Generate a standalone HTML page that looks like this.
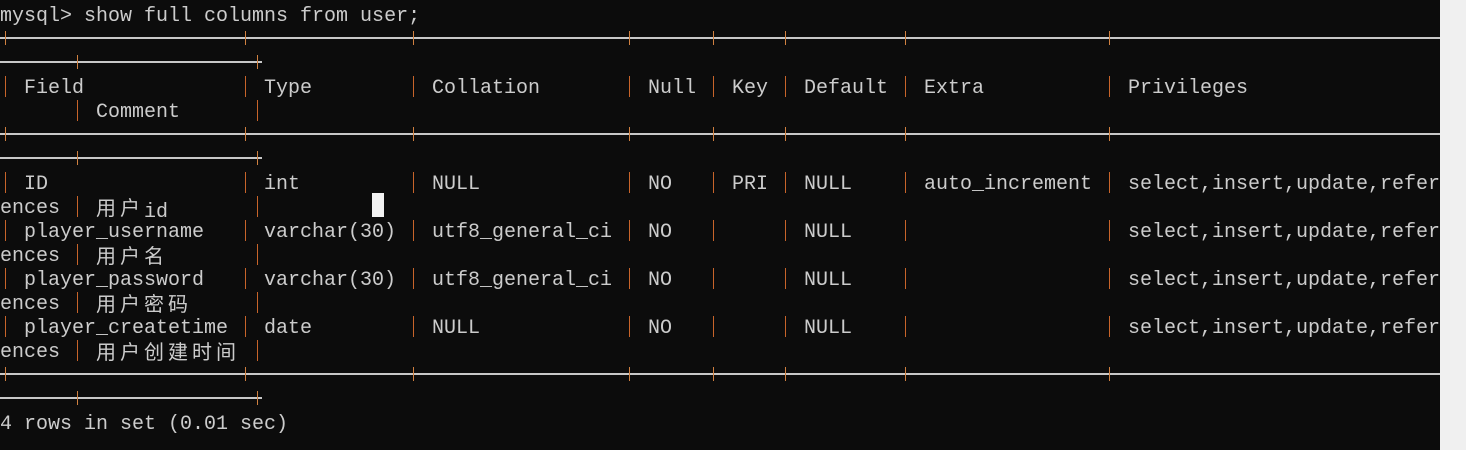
<!DOCTYPE html>
<html><head><meta charset="utf-8"><style>
html,body{margin:0;padding:0;}
body{width:1466px;height:450px;background:#f0f0f0;position:relative;overflow:hidden;}
#t{position:absolute;left:0;top:0;width:1440px;height:450px;background:#0c0c0c;overflow:hidden;font-family:"Liberation Mono","Noto Sans CJK SC",monospace;font-size:20px;color:#cccccc;}
.l{position:absolute;left:0;width:1440px;height:24px;}
.s{position:absolute;top:3px;line-height:24px;white-space:pre;}
.c{font-family:"Noto Sans CJK SC",sans-serif;letter-spacing:4px;position:relative;top:-2px;}
.p{position:absolute;top:2px;width:1px;height:21px;background:#c8642a;}
.b{position:absolute;top:11px;height:2px;background:#c8c8c8;}
.x{position:absolute;top:5px;width:1px;height:14px;background:#d08040;}
#cur{position:absolute;left:372px;top:193px;width:12px;height:24px;background:#f2f2f2;}
</style></head><body><div id="t">

<div class="l" style="top:2px"><span class="s" style="left:0">mysql&gt; show full columns from user;</span></div>

<div class="l" style="top:26px">
<div class="b" style="left:0;width:1440px"></div>
<div class="x" style="left:5px"></div><div class="x" style="left:245px"></div><div class="x" style="left:413px"></div><div class="x" style="left:629px"></div><div class="x" style="left:713px"></div><div class="x" style="left:785px"></div><div class="x" style="left:905px"></div><div class="x" style="left:1109px"></div>
</div>
<div class="l" style="top:50px">
<div class="b" style="left:0;width:262px"></div>
<div class="x" style="left:77px"></div><div class="x" style="left:257px"></div>
</div>

<div class="l" style="top:74px">
<div class="p" style="left:5px"></div><div class="p" style="left:245px"></div><div class="p" style="left:413px"></div><div class="p" style="left:629px"></div><div class="p" style="left:713px"></div><div class="p" style="left:785px"></div><div class="p" style="left:905px"></div><div class="p" style="left:1109px"></div>
<span class="s" style="left:24px">Field</span><span class="s" style="left:264px">Type</span><span class="s" style="left:432px">Collation</span><span class="s" style="left:648px">Null</span><span class="s" style="left:732px">Key</span><span class="s" style="left:804px">Default</span><span class="s" style="left:924px">Extra</span><span class="s" style="left:1128px">Privileges</span>
</div>
<div class="l" style="top:98px">
<div class="p" style="left:77px"></div><div class="p" style="left:257px"></div>
<span class="s" style="left:96px">Comment</span>
</div>

<div class="l" style="top:122px">
<div class="b" style="left:0;width:1440px"></div>
<div class="x" style="left:5px"></div><div class="x" style="left:245px"></div><div class="x" style="left:413px"></div><div class="x" style="left:629px"></div><div class="x" style="left:713px"></div><div class="x" style="left:785px"></div><div class="x" style="left:905px"></div><div class="x" style="left:1109px"></div>
</div>
<div class="l" style="top:146px">
<div class="b" style="left:0;width:262px"></div>
<div class="x" style="left:77px"></div><div class="x" style="left:257px"></div>
</div>

<div class="l" style="top:170px">
<div class="p" style="left:5px"></div><div class="p" style="left:245px"></div><div class="p" style="left:413px"></div><div class="p" style="left:629px"></div><div class="p" style="left:713px"></div><div class="p" style="left:785px"></div><div class="p" style="left:905px"></div><div class="p" style="left:1109px"></div>
<span class="s" style="left:24px">ID</span><span class="s" style="left:264px">int</span><span class="s" style="left:432px">NULL</span><span class="s" style="left:648px">NO</span><span class="s" style="left:732px">PRI</span><span class="s" style="left:804px">NULL</span><span class="s" style="left:924px">auto_increment</span><span class="s" style="left:1128px">select,insert,update,refer</span>
</div>
<div class="l" style="top:194px">
<span class="s" style="left:0">ences</span><div class="p" style="left:77px"></div><div class="p" style="left:257px"></div>
<span class="s" style="left:96px"><span class="c">用户</span>id</span>
</div>

<div class="l" style="top:218px">
<div class="p" style="left:5px"></div><div class="p" style="left:245px"></div><div class="p" style="left:413px"></div><div class="p" style="left:629px"></div><div class="p" style="left:713px"></div><div class="p" style="left:785px"></div><div class="p" style="left:905px"></div><div class="p" style="left:1109px"></div>
<span class="s" style="left:24px">player_username</span><span class="s" style="left:264px">varchar(30)</span><span class="s" style="left:432px">utf8_general_ci</span><span class="s" style="left:648px">NO</span><span class="s" style="left:804px">NULL</span><span class="s" style="left:1128px">select,insert,update,refer</span>
</div>
<div class="l" style="top:242px">
<span class="s" style="left:0">ences</span><div class="p" style="left:77px"></div><div class="p" style="left:257px"></div>
<span class="s" style="left:96px"><span class="c">用户名</span></span>
</div>

<div class="l" style="top:266px">
<div class="p" style="left:5px"></div><div class="p" style="left:245px"></div><div class="p" style="left:413px"></div><div class="p" style="left:629px"></div><div class="p" style="left:713px"></div><div class="p" style="left:785px"></div><div class="p" style="left:905px"></div><div class="p" style="left:1109px"></div>
<span class="s" style="left:24px">player_password</span><span class="s" style="left:264px">varchar(30)</span><span class="s" style="left:432px">utf8_general_ci</span><span class="s" style="left:648px">NO</span><span class="s" style="left:804px">NULL</span><span class="s" style="left:1128px">select,insert,update,refer</span>
</div>
<div class="l" style="top:290px">
<span class="s" style="left:0">ences</span><div class="p" style="left:77px"></div><div class="p" style="left:257px"></div>
<span class="s" style="left:96px"><span class="c">用户密码</span></span>
</div>

<div class="l" style="top:314px">
<div class="p" style="left:5px"></div><div class="p" style="left:245px"></div><div class="p" style="left:413px"></div><div class="p" style="left:629px"></div><div class="p" style="left:713px"></div><div class="p" style="left:785px"></div><div class="p" style="left:905px"></div><div class="p" style="left:1109px"></div>
<span class="s" style="left:24px">player_createtime</span><span class="s" style="left:264px">date</span><span class="s" style="left:432px">NULL</span><span class="s" style="left:648px">NO</span><span class="s" style="left:804px">NULL</span><span class="s" style="left:1128px">select,insert,update,refer</span>
</div>
<div class="l" style="top:338px">
<span class="s" style="left:0">ences</span><div class="p" style="left:77px"></div><div class="p" style="left:257px"></div>
<span class="s" style="left:96px"><span class="c">用户创建时间</span></span>
</div>

<div class="l" style="top:362px">
<div class="b" style="left:0;width:1440px"></div>
<div class="x" style="left:5px"></div><div class="x" style="left:245px"></div><div class="x" style="left:413px"></div><div class="x" style="left:629px"></div><div class="x" style="left:713px"></div><div class="x" style="left:785px"></div><div class="x" style="left:905px"></div><div class="x" style="left:1109px"></div>
</div>
<div class="l" style="top:386px">
<div class="b" style="left:0;width:262px"></div>
<div class="x" style="left:77px"></div><div class="x" style="left:257px"></div>
</div>

<div class="l" style="top:410px"><span class="s" style="left:0">4 rows in set (0.01 sec)</span></div>

<div id="cur"></div>
</div></body></html>
